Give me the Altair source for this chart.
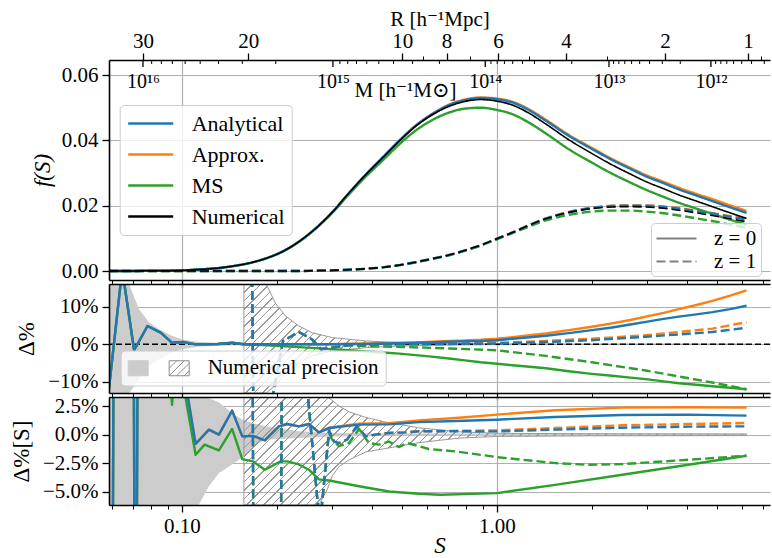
import numpy as np
import pandas as pd
import altair as alt

# ------------------------------------------------------------------ data
SERIES = ["Analytical", "Approx.", "MS", "Numerical"]
SERIES_COLORS = ["#1f77b4", "#ff7f0e", "#2ca02c", "#000000"]
Z_LABELS = ["z = 0", "z = 1"]

# top panel f(S)
S_TOP = [0.0586, 0.07, 0.08, 0.09, 0.10, 0.115, 0.13, 0.145, 0.163, 0.185,
         0.208, 0.235, 0.266, 0.30, 0.339, 0.385, 0.433, 0.49, 0.552, 0.62,
         0.704, 0.79, 0.888, 1.0, 1.12, 1.27, 1.43, 1.69, 2.0, 2.32,
         2.65, 2.97, 3.38, 3.78, 4.3, 4.83, 5.5, 6.2]
F_NUM_Z0 = [0.0, 0.0, 0.0001, 0.0001, 0.0002, 0.0005, 0.0009, 0.0015, 0.0024, 0.0039,
            0.0059, 0.0090, 0.0131, 0.0180, 0.0239, 0.0297, 0.0346, 0.0398, 0.0443, 0.0477,
            0.0504, 0.0519, 0.0525, 0.0520, 0.0508, 0.0482, 0.0450, 0.0402, 0.0360, 0.0325,
            0.0297, 0.0274, 0.0252, 0.0233, 0.0214, 0.0197, 0.0178, 0.0161]
F_ANA_Z0 = [0.0, 0.0, 0.0001, 0.0001, 0.0002, 0.0005, 0.0009, 0.0015, 0.0024, 0.0039,
            0.0059, 0.0090, 0.0131, 0.0180, 0.0239, 0.0297, 0.0347, 0.0399, 0.0445, 0.0479,
            0.0508, 0.0523, 0.0530, 0.0526, 0.0516, 0.0491, 0.0460, 0.0414, 0.0374, 0.0340,
            0.0313, 0.0290, 0.0269, 0.0250, 0.0231, 0.0214, 0.0195, 0.0178]
F_APX_Z0 = [0.0, 0.0, 0.0001, 0.0001, 0.0002, 0.0005, 0.0009, 0.0015, 0.0024, 0.0039,
            0.0059, 0.0090, 0.0131, 0.0180, 0.0239, 0.0297, 0.0347, 0.0400, 0.0445, 0.0480,
            0.0509, 0.0525, 0.0531, 0.0528, 0.0518, 0.0494, 0.0463, 0.0417, 0.0377, 0.0343,
            0.0316, 0.0294, 0.0273, 0.0255, 0.0236, 0.0220, 0.0201, 0.0184]
F_MS_Z0 = [0.0, 0.0, 0.0001, 0.0001, 0.0002, 0.0005, 0.0009, 0.0015, 0.0024, 0.0039,
           0.0059, 0.0089, 0.0130, 0.0178, 0.0235, 0.0291, 0.0338, 0.0388, 0.0430, 0.0461,
           0.0485, 0.0497, 0.0500, 0.0493, 0.0480, 0.0453, 0.0421, 0.0373, 0.0332, 0.0298,
           0.0271, 0.0249, 0.0227, 0.0209, 0.0191, 0.0175, 0.0157, 0.0142]
F_NUM_Z1 = [0.0, 0.0, 0.0, 0.0, 0.0, 0.0, 0.0, 0.0, 0.0, 0.0,
            0.0, 0.0, 0.0001, 0.0002, 0.0004, 0.0007, 0.0011, 0.0018, 0.0027, 0.0037,
            0.0049, 0.0063, 0.0079, 0.0099, 0.0118, 0.0141, 0.0160, 0.0179, 0.0191, 0.0196,
            0.0197, 0.0196, 0.0192, 0.0186, 0.0178, 0.0170, 0.0160, 0.0151]
F_ANA_Z1 = [0.0, 0.0, 0.0, 0.0, 0.0, 0.0, 0.0, 0.0, 0.0, 0.0,
            0.0, 0.0, 0.0001, 0.0002, 0.0004, 0.0007, 0.0011, 0.0018, 0.0027, 0.0037,
            0.0049, 0.0063, 0.0079, 0.0099, 0.0118, 0.0141, 0.0161, 0.0180, 0.0193, 0.0199,
            0.0200, 0.0200, 0.0196, 0.0191, 0.0183, 0.0176, 0.0166, 0.0158]
F_APX_Z1 = [0.0, 0.0, 0.0, 0.0, 0.0, 0.0, 0.0, 0.0, 0.0, 0.0,
            0.0, 0.0, 0.0001, 0.0002, 0.0004, 0.0007, 0.0011, 0.0018, 0.0027, 0.0037,
            0.0049, 0.0063, 0.0079, 0.0099, 0.0118, 0.0141, 0.0161, 0.0181, 0.0194, 0.0200,
            0.0201, 0.0201, 0.0198, 0.0192, 0.0185, 0.0177, 0.0168, 0.0160]
F_MS_Z1 = [0.0, 0.0, 0.0, 0.0, 0.0, 0.0, 0.0, 0.0, 0.0, 0.0,
           0.0, 0.0, 0.0001, 0.0002, 0.0004, 0.0007, 0.0011, 0.0018, 0.0027, 0.0037,
           0.0048, 0.0062, 0.0078, 0.0097, 0.0116, 0.0137, 0.0155, 0.0172, 0.0182, 0.0185,
           0.0185, 0.0182, 0.0177, 0.0170, 0.0161, 0.0153, 0.0142, 0.0133]

# middle panel: Delta % (z = 0)
MID_Z0_S = [0.0586, 0.0646, 0.0705, 0.0777, 0.0856, 0.0931, 0.1015, 0.1105, 0.12, 0.13,
            0.1445, 0.157, 0.18, 0.2, 0.25, 0.3, 0.339, 0.385, 0.433, 0.49,
            0.552, 0.62, 0.704, 0.79, 0.888, 1.0, 1.12, 1.27, 1.43, 1.69,
            2.0, 2.32, 2.65, 2.97, 3.38, 3.78, 4.3, 4.83, 5.5, 6.2]
MID_ANA_Z0 = [-12.0, 20.0, -1.6, 4.9, 3.1, 0.4, 0.6, 0.0, 0.0, 0.1,
              0.4, 0.0, 0.0, 0.0, 0.0, 0.0, 0.1, 0.1, 0.2, 0.3,
              0.4, 0.5, 0.7, 0.8, 0.9, 1.1, 1.5, 1.9, 2.3, 3.0,
              3.8, 4.5, 5.3, 6.0, 6.8, 7.4, 8.0, 8.6, 9.4, 10.3]
MID_APX_Z0 = [-12.0, 20.0, -1.6, 4.9, 3.1, 0.4, 0.6, 0.0, 0.0, 0.1,
              0.4, 0.0, 0.0, 0.0, 0.0, 0.0, 0.1, 0.2, 0.3, 0.4,
              0.5, 0.7, 0.9, 1.0, 1.2, 1.5, 1.9, 2.4, 2.9, 3.8,
              4.7, 5.6, 6.5, 7.4, 8.4, 9.4, 10.5, 11.6, 13.0, 14.4]
MID_MS_Z0 = [-12.0, 20.0, -1.6, 4.9, 3.1, 0.4, 0.6, 0.0, 0.0, 0.1,
             0.4, 0.0, -0.2, -0.4, -0.9, -1.3, -1.6, -1.9, -2.2, -2.5,
             -2.9, -3.3, -3.8, -4.3, -4.8, -5.2, -5.6, -6.0, -6.4, -7.2,
             -7.9, -8.4, -8.9, -9.3, -9.9, -10.4, -10.8, -11.2, -11.6, -12.0]
# middle panel: Delta % (z = 1)
MID_Z1_S = [0.1573, 0.166, 0.1695, 0.2094, 0.235, 0.259, 0.276, 0.3, 0.339,
            0.4, 0.5, 0.704, 1.0, 1.43, 2.0, 2.97, 4.83, 6.2]
MID_ANA_Z1 = [40.0, 40.0, -40.0, 0.9, 3.3, 1.3, -1.3, -0.9, -0.2,
              0.0, 0.0, 0.1, 0.2, 0.6, 1.1, 2.0, 3.3, 4.4]
MID_APX_Z1 = [40.0, 40.0, -40.0, 0.9, 3.3, 1.3, -1.3, -0.9, -0.2,
              0.0, 0.1, 0.2, 0.4, 0.9, 1.5, 2.4, 4.2, 5.9]
MID_MS_Z1 = [40.0, 40.0, -40.0, 0.9, 3.3, 1.3, -1.3, -0.9, -0.3,
             -0.5, -0.7, -1.1, -1.6, -3.1, -4.8, -7.0, -10.2, -12.0]
# numerical precision (+/-) in the middle panel
MID_PREC_Z0_S = [0.0586, 0.0662, 0.068, 0.073, 0.0786, 0.0845, 0.0932, 0.1, 0.113,
                 0.144, 0.2, 0.3, 0.5, 1.0, 6.2]
MID_PREC_Z0 = [40.0, 20.0, 16.0, 9.4, 5.8, 4.0, 2.2, 1.3, 0.6,
               0.3, 0.15, 0.1, 0.05, 0.03, 0.02]
MID_PREC_Z1_S = [0.1573, 0.18, 0.185, 0.198, 0.213, 0.235, 0.259, 0.30, 0.383,
                 0.488, 0.7, 1.0, 2.0, 6.2]
MID_PREC_Z1 = [40.0, 40.0, 16.5, 11.0, 7.6, 4.9, 3.1, 1.8, 0.9,
               0.45, 0.2, 0.1, 0.05, 0.03]

# bottom panel: Delta %[S]
BOT_ANA_Z0_S = [0.0586, 0.0598, 0.0612, 0.0697, 0.0712, 0.0730, 0.09, 0.0985, 0.1105, 0.1218,
                0.131, 0.1443, 0.1554, 0.168, 0.1833, 0.203, 0.216, 0.235, 0.253, 0.272,
                0.293, 0.365, 0.454, 0.565, 0.74, 1.0, 1.53, 2.5, 4.05, 6.2]
BOT_ANA_Z0 = [-40.0, -40.0, 40.0, 40.0, -40.0, 40.0, 30.0, 7.5, -0.8, 0.44,
              0.0, 2.1, -0.15, -0.1, -0.5, 0.73, 0.93, 0.73, 0.93, 0.2,
              0.58, 0.88, 0.9, 1.1, 1.2, 1.31, 1.55, 1.72, 1.75, 1.66]
BOT_APX_Z0 = [-40.0, -40.0, 40.0, 40.0, -40.0, 40.0, 30.0, 7.5, -0.8, 0.44,
              0.0, 2.1, -0.15, -0.1, -0.5, 0.73, 0.93, 0.73, 0.93, 0.2,
              0.6, 0.95, 1.0, 1.25, 1.46, 1.75, 2.13, 2.36, 2.39, 2.36]
BOT_MS_Z0_S = [0.0586, 0.0598, 0.0612, 0.0697, 0.0712, 0.0730, 0.0896, 0.0930, 0.0957, 0.1105,
               0.1180, 0.131, 0.1443, 0.1554, 0.168, 0.1833, 0.2057, 0.216, 0.235, 0.253,
               0.272, 0.293, 0.365, 0.454, 0.565, 0.66, 1.0, 1.53, 2.5, 4.05, 6.2]
BOT_MS_Z0 = [-40.0, -40.0, 40.0, 40.0, -40.0, 40.0, 10.0, 2.6, 8.0, -1.75,
             -0.87, -1.37, 0.5, -2.13, -2.33, -3.06, -2.33, -2.33, -2.6, -3.06,
             -3.9, -4.0, -4.5, -4.96, -5.16, -5.25, -5.1, -4.38, -3.5, -2.63, -1.84]
BOT_Z1_S = [0.1573, 0.166, 0.170, 0.2035, 0.2105, 0.246, 0.274, 0.293, 0.304, 0.315,
            0.334, 0.359, 0.383, 0.411, 0.454, 0.512, 0.565, 1.0, 1.53, 2.5, 4.05, 6.2]
BOT_ANA_Z1 = [40.0, 40.0, -40.0, -40.0, 40.0, 6.0, -8.0, 0.38, -0.6, -0.73,
              -0.44, 0.73, -0.15, 0.0, 0.15, 0.2, 0.3, 0.29, 0.44, 0.61, 0.70, 0.73]
BOT_APX_Z1 = [40.0, 40.0, -40.0, -40.0, 40.0, 6.0, -8.0, 0.38, -0.6, -0.73,
              -0.44, 0.73, -0.15, 0.0, 0.15, 0.2, 0.3, 0.38, 0.58, 0.82, 0.93, 1.02]
BOT_MS_Z1_S = [0.1573, 0.166, 0.170, 0.2035, 0.2105, 0.246, 0.274, 0.293, 0.3, 0.315,
               0.339, 0.365, 0.392, 0.421, 0.454, 0.488, 0.519, 0.608, 0.74, 1.0,
               1.53, 1.95, 2.5, 4.05, 6.2]
BOT_MS_Z1 = [40.0, 40.0, -40.0, -40.0, 40.0, 6.0, -8.0, 0.15, -0.44, -1.0,
             -0.73, 0.5, -0.73, -0.87, -0.6, -1.08, -0.73, -1.25, -1.46, -1.96,
             -2.48, -2.63, -2.57, -2.19, -1.84]
BOT_PREC_Z0_S = [0.0586, 0.113, 0.1218, 0.131, 0.1443, 0.1554, 0.168, 0.184, 0.235, 0.3, 0.488, 6.2]
BOT_PREC_Z0_HI = [10.0, 10.0, 3.2, 2.8, 1.9, 1.3, 1.0, 0.73, 0.3, 0.15, 0.1, 0.08]
BOT_PREC_Z0_LO = [-10.0, -6.2, -4.5, -3.35, -2.6, -2.0, -1.0, -0.44, -0.3, -0.15, -0.1, -0.08]
BOT_PREC_Z1_S = [0.1573, 0.272, 0.289, 0.300, 0.315, 0.339, 0.384, 0.444, 0.565, 0.757, 1.01, 2.0, 6.2]
BOT_PREC_Z1_HI = [10.0, 10.0, 10.0, 3.0, 2.5, 2.0, 1.5, 1.1, 0.6, 0.25, 0.12, 0.08, 0.06]
BOT_PREC_Z1_LO = [-10.0, -6.5, -4.8, -3.6, -2.8, -2.2, -1.5, -1.2, -0.7, -0.3, -0.15, -0.1, -0.08]

# secondary axes (radius R and mass M) : tick positions on the S axis
R_TICK_LABELS = ["30", "20", "10", "8", "6", "4", "2", "1"]
R_TICK_VALUES = [30, 20, 10, 8, 6, 4, 2, 1]
R_TICK_S = [0.0752, 0.1624, 0.5003, 0.692, 1.0074, 1.656, 3.415, 6.27]
R_MINOR = [9, 7, 5, 3, 0.9]
M_TICK_LABELS = ["10\u00b9\u2076", "10\u00b9\u2075", "10\u00b9\u2074", "10\u00b9\u00b3", "10\u00b9\u00b2"]
M_TICK_EXP = [16, 15, 14, 13, 12]
M_TICK_S = [0.0752, 0.3015, 0.918, 2.268, 4.78]
X_MAJOR = [0.1, 1.0]
X_MINOR = [0.06, 0.07, 0.08, 0.09, 0.2, 0.3, 0.4, 0.5, 0.6, 0.7, 0.8, 0.9, 2, 3, 4, 5, 6, 7]

# ------------------------------------------------------------------ style / layout
FONT = "Liberation Serif, Times New Roman, DejaVu Serif, serif"
W = 661
H_TOP, H_MID, H_BOT = 220, 109, 108
S_MIN, S_MAX = 0.05866, 7.36
Y_TOP = [-0.00275, 0.0646]
Y_MID = [-13.0, 16.1]
Y_BOT = [-6.14, 3.29]
LW, LW_NUM = 2.4, 1.6
DASH = [9, 4]
GRID = "#b0b0b0"
BAND_GRAY = "#cccccc"
HATCH_GRAY = "#9a9a9a"
BLUE, ORANGE, GREEN, BLACK = SERIES_COLORS

xscale = alt.Scale(type="log", domain=[S_MIN, S_MAX], nice=False)


def yscale(d):
    return alt.Scale(domain=d, nice=False, zero=False)


ys_top, ys_mid, ys_bot = yscale(Y_TOP), yscale(Y_MID), yscale(Y_BOT)
AX_DF = pd.DataFrame({"S": [1.0], "v": [0.0]})

BASE_AX = dict(labelFont=FONT, titleFont=FONT, labelColor="black", titleColor="black",
               tickColor="black", domainColor="black", labelFlush=False, labelOverlap=False,
               titleFontWeight="normal")


def axis(**kw):
    d = dict(BASE_AX)
    d.update(kw)
    return alt.Axis(**d)


def dummy(ys, xaxis=None, yaxis=None, xtitle=None, ytitle=None):
    """Invisible layer that only carries axes (always encodes both x and y)."""
    return alt.Chart(AX_DF).mark_point(opacity=0).encode(
        x=alt.X("S:Q", scale=xscale, axis=xaxis, title=xtitle),
        y=alt.Y("v:Q", scale=ys, axis=yaxis, title=ytitle),
    )


def grid_layer(yvals, ys):
    xa = axis(orient="bottom", values=X_MAJOR, grid=True, gridColor=GRID, gridWidth=1.2,
              domain=False, ticks=False, labels=False, zindex=0)
    ya = axis(orient="left", values=yvals, grid=True, gridColor=GRID, gridWidth=1.2,
              domain=False, ticks=False, labels=False, zindex=0)
    return dummy(ys, xa, ya)


def main_axes(yvals, ys, ylabel_expr, ytitle, title_x, h, xlabels=False, ytitle_style="normal"):
    xkw = dict(orient="bottom", values=X_MAJOR, grid=False, domain=True, domainWidth=1.6,
               ticks=True, tickSize=7, tickWidth=1.3, labels=xlabels, zindex=1)
    if xlabels:
        xkw.update(labelExpr="format(datum.value, '.2f')", labelFontSize=21, labelPadding=20,
                   labelBaseline="alphabetic", titleFontSize=23, titleFontStyle="italic",
                   titleY=47, titleBaseline="alphabetic")
    ya = axis(orient="left", values=yvals, grid=False, domain=True, domainWidth=1.6,
              ticks=True, tickSize=7, tickWidth=1.3, labelExpr=ylabel_expr, labelFontSize=21,
              labelPadding=4, zindex=1, titleFontSize=23, titleAngle=270, titleAlign="center",
              titleBaseline="middle", titleX=title_x, titleY=h / 2, titleFontStyle=ytitle_style)
    return dummy(ys, axis(**xkw), ya, xtitle=("S" if xlabels else None), ytitle=ytitle)


def minor_axis(ys):
    return dummy(ys, axis(orient="bottom", values=X_MINOR, grid=False, domain=False, ticks=True,
                          tickSize=4, tickWidth=1.0, labels=False, zindex=1))


def top_domain(ys):
    return dummy(ys, axis(orient="top", grid=False, domain=True, domainWidth=1.6, ticks=False,
                          labels=False, zindex=1))


def threshold_expr(svals, labels):
    ls = np.log10(np.asarray(svals, dtype=float))
    mids = 10 ** ((ls[:-1] + ls[1:]) / 2)
    expr = "'" + labels[-1] + "'"
    for m, lab in reversed(list(zip(mids, labels[:-1]))):
        expr = "datum.value < %.6g ? '%s' : (%s)" % (m, lab, expr)
    return expr


def interp_extrap(xq, xp, fp):
    xq = np.atleast_1d(np.asarray(xq, dtype=float))
    xp = np.asarray(xp, dtype=float)
    fp = np.asarray(fp, dtype=float)
    y = np.interp(xq, xp, fp)
    lo, hi = xq < xp[0], xq > xp[-1]
    y[lo] = fp[0] + (xq[lo] - xp[0]) * (fp[1] - fp[0]) / (xp[1] - xp[0])
    y[hi] = fp[-1] + (xq[hi] - xp[-1]) * (fp[-1] - fp[-2]) / (xp[-1] - xp[-2])
    return y


def line(S, v, color, ys, dashed=False, width=LW):
    kw = dict(color=color, strokeWidth=width, clip=True, interpolate="linear", strokeJoin="round")
    if dashed:
        kw["strokeDash"] = DASH
    return alt.Chart(pd.DataFrame({"S": S, "v": v})).mark_line(**kw).encode(
        x=alt.X("S:Q", scale=xscale, axis=None), y=alt.Y("v:Q", scale=ys, axis=None))


def band(S, hi, lo, ys, dom, fill, stroke=None):
    hi = np.clip(np.asarray(hi, dtype=float), dom[0], dom[1])
    lo = np.clip(np.asarray(lo, dtype=float), dom[0], dom[1])
    kw = dict(fill=fill, clip=True, interpolate="linear")
    if stroke is not None:
        kw.update(stroke=stroke, strokeWidth=1)
    return alt.Chart(pd.DataFrame({"S": S, "hi": hi, "lo": lo})).mark_area(**kw).encode(
        x=alt.X("S:Q", scale=xscale, axis=None), y=alt.Y("hi:Q", scale=ys, axis=None),
        y2=alt.Y2("lo:Q"))


def hatch_gradient(s_lo, s_hi, h, spacing=8.5, lw=1.1, color=HATCH_GRAY):
    w = W * (np.log10(s_hi) - np.log10(s_lo)) / (np.log10(S_MAX) - np.log10(S_MIN))
    L = w + h
    k = L / (w * w + h * h)
    half = lw * np.sqrt(2) / 2 / L
    clear = "rgba(255,255,255,0)"
    stops = []
    i = 0
    while True:
        t = i * spacing / L
        a, b = max(0.0, t - half), min(1.0, t + half)
        if a >= 1.0:
            break
        stops += [alt.GradientStop(offset=float(a), color=clear),
                  alt.GradientStop(offset=float(a), color=color),
                  alt.GradientStop(offset=float(b), color=color),
                  alt.GradientStop(offset=float(b), color=clear)]
        i += 1
    return alt.LinearGradient(gradient="linear", stops=stops, x1=0, y1=0,
                              x2=float(w * k), y2=float(h * k))


# ------------------------------------------------------------------ top panel
# long line symbols drawn with a path that extends right of the (small) symbol box
LONG_LINE_45 = "M-1,0H3.5"
LONG_LINE_40 = "M-1,0H3"
color_scale = alt.Scale(domain=SERIES, range=SERIES_COLORS)
dash_scale = alt.Scale(domain=Z_LABELS, range=[[1, 0], DASH])
color_legend = alt.Legend(orient="none", legendX=10.7, legendY=45, title=None,
                          symbolType=LONG_LINE_45, symbolSize=400, symbolStrokeWidth=2.4,
                          labelFont=FONT, labelFontSize=22, labelOffset=42, rowPadding=8,
                          padding=7, fillColor="rgba(255,255,255,0.8)", strokeColor="#cccccc",
                          cornerRadius=4, labelLimit=300)
dash_legend = alt.Legend(orient="none", legendX=542, legendY=163, title=None,
                         symbolType=LONG_LINE_40, symbolSize=400, symbolStrokeWidth=2.2,
                         symbolStrokeColor="#808080", labelFont=FONT, labelFontSize=21,
                         labelOffset=36, rowPadding=1, padding=4, labelLimit=300,
                         fillColor="rgba(255,255,255,0.8)", strokeColor="#cccccc", cornerRadius=4)

TOP_SERIES = {
    "Analytical": (F_ANA_Z0, F_ANA_Z1),
    "Approx.": (F_APX_Z0, F_APX_Z1),
    "MS": (F_MS_Z0, F_MS_Z1),
    "Numerical": (F_NUM_Z0, F_NUM_Z1),
}
top_lines = []
for name in ["Approx.", "MS", "Analytical", "Numerical"]:
    z0, z1 = TOP_SERIES[name]
    df = pd.concat([
        pd.DataFrame({"S": S_TOP, "v": z0, "series": name, "z": Z_LABELS[0]}),
        pd.DataFrame({"S": S_TOP, "v": z1, "series": name, "z": Z_LABELS[1]}),
    ])
    top_lines.append(
        alt.Chart(df).mark_line(clip=True, interpolate="monotone",
                                strokeWidth=(LW_NUM if name == "Numerical" else LW)).encode(
            x=alt.X("S:Q", scale=xscale, axis=None),
            y=alt.Y("v:Q", scale=ys_top, axis=None),
            color=alt.Color("series:N", scale=color_scale, legend=color_legend),
            strokeDash=alt.StrokeDash("z:N", scale=dash_scale, legend=dash_legend),
        ))

# R axis (top, outward) and M axis (inside)
logR = np.log10(R_TICK_VALUES)[::-1]
logSR = np.log10(R_TICK_S)[::-1]
R_MINOR_S = [float(10 ** s) for s in interp_extrap(np.log10(R_MINOR), logR, logSR)]
R_MINOR_S = [s for s in R_MINOR_S if S_MIN < s < S_MAX]
logSM = np.log10(M_TICK_S)[::-1]
m_exp = np.array(M_TICK_EXP, dtype=float)[::-1]
m_minor_log = [n + np.log10(m) for n in range(11, 16) for m in range(2, 10)]
M_MINOR_S = [float(10 ** s) for s in interp_extrap(m_minor_log, m_exp, logSM)]
M_MINOR_S = [s for s in M_MINOR_S if S_MIN < s < S_MAX]

r_axis = dummy(ys_top, axis(orient="top", values=R_TICK_S,
                            labelExpr=threshold_expr(R_TICK_S, R_TICK_LABELS),
                            domain=True, domainWidth=1.6, ticks=True, tickSize=7, tickWidth=1.3,
                            labelFontSize=21, labelPadding=6, labelBaseline="alphabetic", grid=False,
                            zindex=1, titleFontSize=21, titleX=W / 2, titleY=-35,
                            titleBaseline="alphabetic", titleAlign="center"),
               xtitle="R [h\u207b\u00b9Mpc]")
r_minor = dummy(ys_top, axis(orient="top", values=R_MINOR_S, domain=False, ticks=True, tickSize=4,
                             tickWidth=1.0, labels=False, grid=False, zindex=1))
m_axis = dummy(ys_top, axis(orient="top", values=M_TICK_S,
                            labelExpr=threshold_expr(M_TICK_S, M_TICK_LABELS),
                            domain=False, ticks=False, labelFontSize=20, labelPadding=-27,
                            labelBaseline="alphabetic", grid=False, zindex=1, titleFontSize=21,
                            titleX=296, titleY=36, titleBaseline="alphabetic", titleAlign="center"),
               xtitle="M [h\u207b\u00b9M\u2299]")
m_major_ticks = alt.Chart(pd.DataFrame({"S": M_TICK_S})).mark_rule(color="black", strokeWidth=1.3).encode(
    x=alt.X("S:Q", scale=xscale, axis=None), y=alt.value(0), y2=alt.value(7))
m_minor_ticks = alt.Chart(pd.DataFrame({"S": M_MINOR_S})).mark_rule(color="black", strokeWidth=1.0).encode(
    x=alt.X("S:Q", scale=xscale, axis=None), y=alt.value(0), y2=alt.value(4))

top = alt.layer(
    grid_layer([0, 0.02, 0.04, 0.06], ys_top),
    *top_lines,
    main_axes([0, 0.02, 0.04, 0.06], ys_top, "format(datum.value, '.2f')", "f(S)", -67, H_TOP,
              ytitle_style="italic"),
    minor_axis(ys_top), r_axis, r_minor, m_axis, m_major_ticks, m_minor_ticks,
).properties(width=W, height=H_TOP).resolve_axis(x="independent", y="independent")

# ------------------------------------------------------------------ middle panel
RECT_PATH = "M-1,-0.75H1V0.75H-1Z"
HATCH_PATH = ("M-1,-0.75H1V0.75H-1Z M-1,0L-0.25,-0.75 M-1,0.75L0.5,-0.75 "
              "M-0.25,0.75L1,-0.5 M0.5,0.75L1,0.25")
prec_legend = alt.Legend(orient="none", legendX=11.7, legendY=66.5, direction="horizontal",
                         title=None, labelExpr="datum.value == 'a' ? '' : 'Numerical precision'",
                         symbolSize=400, symbolStrokeWidth=1, symbolOpacity=1,
                         labelFont=FONT, labelFontSize=21, labelOffset=18, labelLimit=400,
                         columnPadding=0, padding=7, fillColor="rgba(255,255,255,0.8)",
                         strokeColor="#cccccc", cornerRadius=4)
PREC_KEYS = ["a", "b"]
# legend carrier: points placed outside the visible S range (clipped away)
prec_layer = alt.Chart(pd.DataFrame({"S": [50.0, 50.0], "v": [0.0, 0.0], "key": PREC_KEYS})).mark_point(
    filled=True, strokeWidth=1, opacity=1, clip=True).encode(
    x=alt.X("S:Q", scale=xscale, axis=None),
    y=alt.Y("v:Q", scale=ys_mid, axis=None),
    fill=alt.Fill("key:N", scale=alt.Scale(domain=PREC_KEYS, range=[BAND_GRAY, "rgba(255,255,255,0)"]),
                  legend=prec_legend),
    stroke=alt.Stroke("key:N", scale=alt.Scale(domain=PREC_KEYS, range=[BAND_GRAY, "#8c8c8c"]),
                      legend=prec_legend),
    shape=alt.Shape("key:N", scale=alt.Scale(domain=PREC_KEYS, range=[RECT_PATH, HATCH_PATH]),
                    legend=prec_legend),
)
zero_rule = alt.Chart(pd.DataFrame({"v": [0.0]})).mark_rule(
    color="black", strokeWidth=1.4, strokeDash=[6, 3]).encode(y=alt.Y("v:Q", scale=ys_mid, axis=None))

mid_prec1_lo = [-v for v in MID_PREC_Z1]
mid_prec0_lo = [-v for v in MID_PREC_Z0]
mid = alt.layer(
    grid_layer([-10, 0, 10], ys_mid),
    band(MID_PREC_Z0_S, MID_PREC_Z0, mid_prec0_lo, ys_mid, Y_MID, BAND_GRAY),
    band(MID_PREC_Z1_S, MID_PREC_Z1, mid_prec1_lo, ys_mid, Y_MID,
         hatch_gradient(MID_PREC_Z1_S[0], MID_PREC_Z1_S[-1], H_MID), stroke="#999999"),
    zero_rule,
    line(MID_Z0_S, MID_APX_Z0, ORANGE, ys_mid),
    line(MID_Z1_S, MID_APX_Z1, ORANGE, ys_mid, dashed=True),
    line(MID_Z0_S, MID_MS_Z0, GREEN, ys_mid),
    line(MID_Z1_S, MID_MS_Z1, GREEN, ys_mid, dashed=True),
    line(MID_Z0_S, MID_ANA_Z0, BLUE, ys_mid),
    line(MID_Z1_S, MID_ANA_Z1, BLUE, ys_mid, dashed=True),
    prec_layer,
    main_axes([-10, 0, 10], ys_mid,
              "(datum.value < 0 ? '\u2212' : '') + format(abs(datum.value), 'd') + '%'",
              "\u0394%", -83, H_MID),
    minor_axis(ys_mid), top_domain(ys_mid),
).properties(width=W, height=H_MID).resolve_axis(x="independent", y="independent")

# ------------------------------------------------------------------ bottom panel
bot = alt.layer(
    grid_layer([-5, -2.5, 0, 2.5], ys_bot),
    band(BOT_PREC_Z0_S, BOT_PREC_Z0_HI, BOT_PREC_Z0_LO, ys_bot, Y_BOT, BAND_GRAY),
    band(BOT_PREC_Z1_S, BOT_PREC_Z1_HI, BOT_PREC_Z1_LO, ys_bot, Y_BOT,
         hatch_gradient(BOT_PREC_Z1_S[0], BOT_PREC_Z1_S[-1], H_BOT), stroke="#999999"),
    line(BOT_ANA_Z0_S, BOT_APX_Z0, ORANGE, ys_bot),
    line(BOT_Z1_S, BOT_APX_Z1, ORANGE, ys_bot, dashed=True),
    line(BOT_MS_Z0_S, BOT_MS_Z0, GREEN, ys_bot),
    line(BOT_MS_Z1_S, BOT_MS_Z1, GREEN, ys_bot, dashed=True),
    line(BOT_ANA_Z0_S, BOT_ANA_Z0, BLUE, ys_bot),
    line(BOT_Z1_S, BOT_ANA_Z1, BLUE, ys_bot, dashed=True),
    main_axes([-5, -2.5, 0, 2.5], ys_bot,
              "(datum.value < 0 ? '\u2212' : '') + format(abs(datum.value), '.1f') + '%'",
              "\u0394%[S]", -88, H_BOT, xlabels=True),
    minor_axis(ys_bot), top_domain(ys_bot),
).properties(width=W, height=H_BOT).resolve_axis(x="independent", y="independent")

chart = alt.vconcat(top, mid, bot, spacing=4, bounds="flush").resolve_scale(
    color="independent", strokeDash="independent", fill="independent", shape="independent",
    stroke="independent"
).properties(
    padding={"left": 10, "top": 8, "right": 1, "bottom": 0}
).configure(font=FONT).configure_view(stroke=None)

chart.save("out.html", embed_options={"renderer": "svg", "actions": False})
